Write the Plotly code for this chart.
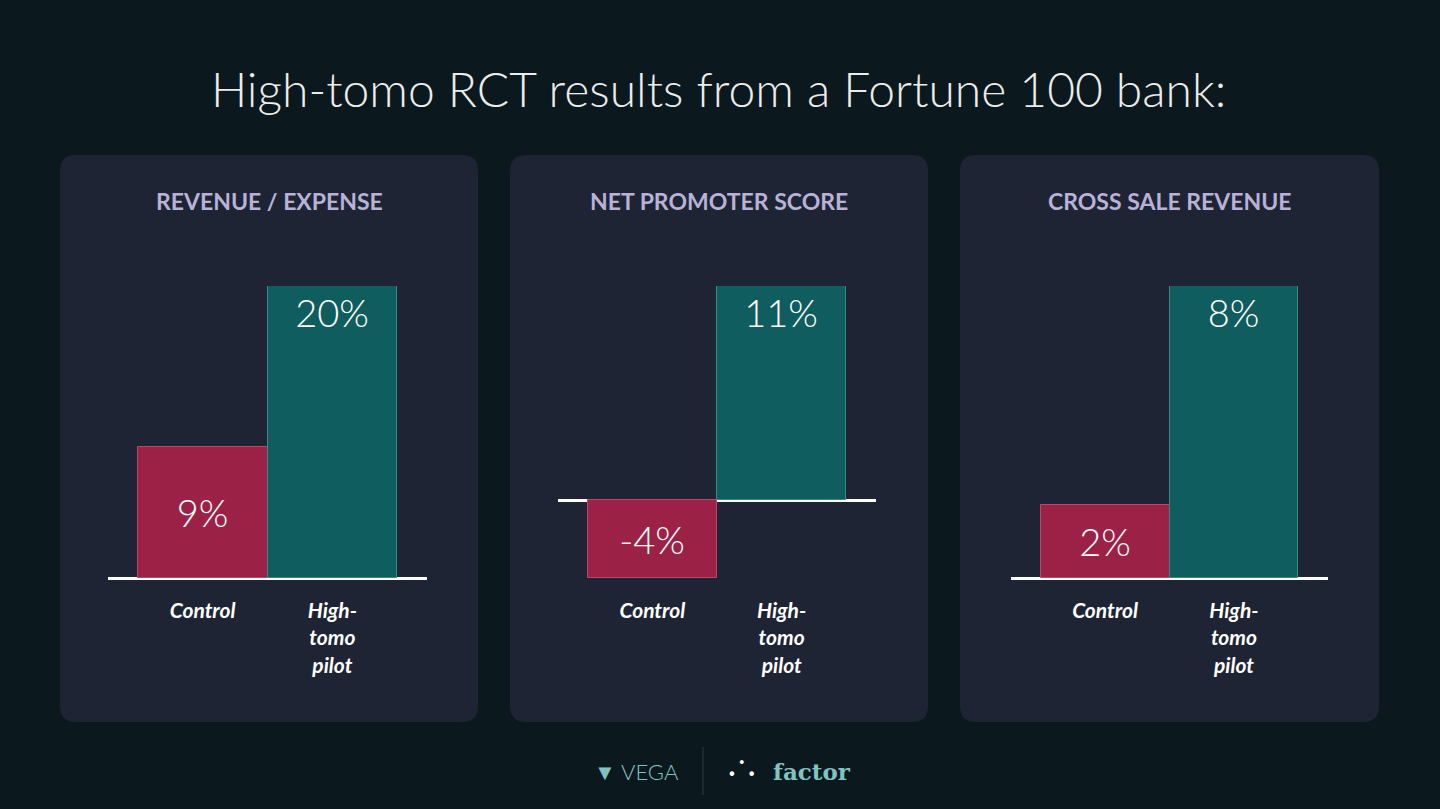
import plotly.graph_objects as go

panel_titles = ["REVENUE / EXPENSE", "NET PROMOTER SCORE", "CROSS SALE REVENUE"]
categories = ["Control", "High-<br>tomo<br>pilot"]
control_vals = [9, -4, 2]
pilot_vals = [20, 11, 8]
y_ranges = [[0, 20], [-4, 11], [0, 8]]

W, H = 1440, 809
BG = "#0b181d"; PANEL = "#1e2433"; RED = "#9b2246"; TEAL = "#0f5d5e"

fig = go.Figure()
panels_px = [(60, 478), (510, 928), (960, 1379)]
axis_px = [(108, 427), (558, 876), (1011, 1328)]

def rr(x0, y0, x1, y1, r):
    X = lambda v: v / W
    Y = lambda v: 1 - v / H
    return (f"M {X(x0+r)},{Y(y0)} L {X(x1-r)},{Y(y0)} Q {X(x1)},{Y(y0)} {X(x1)},{Y(y0+r)} "
            f"L {X(x1)},{Y(y1-r)} Q {X(x1)},{Y(y1)} {X(x1-r)},{Y(y1)} L {X(x0+r)},{Y(y1)} "
            f"Q {X(x0)},{Y(y1)} {X(x0)},{Y(y1-r)} L {X(x0)},{Y(y0+r)} Q {X(x0)},{Y(y0)} {X(x0+r)},{Y(y0)} Z")

def ann(text, x, y, font):
    return dict(text=text, x=x / W, y=1 - y / H, xref="paper", yref="paper", showarrow=False,
                xanchor="center", yanchor="middle", font=font)

shapes = []
annotations = []
for i in range(3):
    n = "" if i == 0 else str(i + 1)
    xa, ya = "x" + n, "y" + n
    px0, px1 = panels_px[i]
    shapes.append(dict(type="path", path=rr(px0, 155, px1, 722, 16), xref="paper", yref="paper",
                       fillcolor=PANEL, line=dict(width=0), layer="below"))
    annotations.append(ann(panel_titles[i], (px0 + px1) / 2, 201,
                           dict(family="Lato", size=23, color="#b8b2d8", weight="bold")))
    short = lambda v, r: abs(v) / (r[1] - r[0]) < 0.5
    for vals, col, lc, idx in [(control_vals, RED, "#b84a66", 0), (pilot_vals, TEAL, "#3a8a88", 1)]:
        v = vals[i]
        fig.add_trace(go.Bar(x=[idx], y=[v], width=1, marker=dict(color=col, line=dict(color=lc, width=1)),
                             text=[f"{v}%"], textposition="inside",
                             insidetextanchor="middle" if short(v, y_ranges[i]) else "end",
                             textfont=dict(family="Lato", size=38, color="white", weight=300),
                             textangle=0, cliponaxis=False, xaxis=xa, yaxis=ya, showlegend=False))
    a0, a1 = axis_px[i]
    fig.layout["xaxis" + n] = dict(domain=[a0 / W, a1 / W], range=[-0.73, 1.73], tickvals=[0, 1], ticktext=categories,
                                   showgrid=False, zeroline=False, showline=False, ticks="", anchor=ya,
                                   tickfont=dict(family="Lato", size=21, color="white", style="italic", weight="bold"),
                                   ticklabelstandoff=18, fixedrange=True)
    fig.layout["yaxis" + n] = dict(domain=[1 - 578 / H, 1 - 286 / H], range=y_ranges[i], visible=True,
                                   showticklabels=False, showgrid=False, zeroline=True, zerolinecolor="white",
                                   zerolinewidth=2.5, showline=False, anchor=xa, fixedrange=True)

annotations.append(ann("High-tomo RCT results from a Fortune 100 bank:", 718, 88,
                       dict(family="Lato", size=48, color="#ececec", weight=300)))
annotations.append(ann("<b>▼</b> VEGA", 636, 771, dict(family="Lato", size=22, color="#7fc4c2", weight=300)))
annotations.append(ann("<b>factor</b>", 812, 771, dict(family="DejaVu Serif", size=23, color="#7fc4c2")))
annotations.append(ann("·˙·", 742, 771, dict(family="Lato", size=30, color="white")))
shapes.append(dict(type="line", x0=703 / W, x1=703 / W, y0=1 - 747 / H, y1=1 - 795 / H, xref="paper", yref="paper",
                   line=dict(color="#2f3a40", width=1)))

fig.update_layout(width=W, height=H, margin=dict(l=0, r=0, t=0, b=0), paper_bgcolor=BG, plot_bgcolor="rgba(0,0,0,0)",
                  bargap=0, shapes=shapes, annotations=annotations, hovermode=False)
fig.write_html("out.html", config=dict(displayModeBar=False),
               post_script="document.body.style.margin='0';document.body.style.background='#0b181d';")
